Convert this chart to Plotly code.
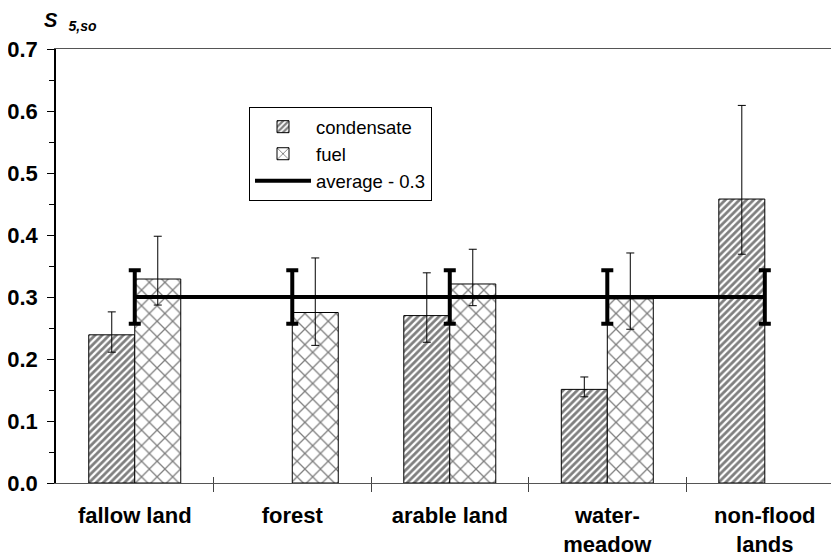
import plotly.graph_objects as go

categories = ["fallow land", "forest", "arable land", "water-<br>meadow", "non-flood<br>lands"]
condensate = [0.239, None, 0.270, 0.151, 0.458]
condensate_err_plus = [0.037, None, 0.069, 0.020, 0.151]
condensate_err_minus = [0.028, None, 0.043, 0.012, 0.089]
fuel = [0.329, 0.275, 0.321, 0.297, None]
fuel_err_plus = [0.069, 0.088, 0.056, 0.074, None]
fuel_err_minus = [0.042, 0.053, 0.035, 0.049, None]
average = [0.3, 0.3, 0.3, 0.3, 0.3]
average_err = [0.043, 0.043, 0.043, 0.043, 0.043]
boundaries = [0.5, 1.5, 2.5, 3.5, 4.5]
y_ticks = [0.0, 0.1, 0.2, 0.3, 0.4, 0.5, 0.6, 0.7]

xpos = list(range(len(categories)))
FONT = "Liberation Sans, Arial, sans-serif"

fig = go.Figure()
fig.add_trace(go.Bar(
    x=xpos, y=condensate, name="condensate", legendgroup="a",
    marker=dict(color="white", line=dict(color="black", width=1),
                pattern=dict(shape="/", size=5, solidity=0.55, fgcolor="black", bgcolor="white")),
    error_y=dict(type="data", symmetric=False, array=condensate_err_plus,
                 arrayminus=condensate_err_minus, color="black", thickness=1, width=4),
))
fig.add_trace(go.Bar(
    x=xpos, y=fuel, name="fuel", legendgroup="b",
    marker=dict(color="white", line=dict(color="black", width=1),
                pattern=dict(shape="x", size=11, solidity=0.22, fgcolor="black", bgcolor="white")),
    error_y=dict(type="data", symmetric=False, array=fuel_err_plus,
                 arrayminus=fuel_err_minus, color="black", thickness=1, width=4),
))
fig.add_trace(go.Scatter(
    x=xpos, y=average, name="average - 0.3", mode="lines", legendgroup="c",
    line=dict(color="black", width=4),
    error_y=dict(type="data", array=average_err, color="black", thickness=4, width=6),
))

x_range = [-0.5, 4.471]
fig.update_layout(
    width=831, height=552,
    margin=dict(l=48, r=0, t=41, b=77),
    plot_bgcolor="white", paper_bgcolor="white",
    barmode="group", bargap=0.416, bargroupgap=0,
    font=dict(family=FONT, color="black"),
    showlegend=True,
    legend=dict(x=0.2465, y=0.866, xanchor="left", yanchor="top",
                bgcolor="white", bordercolor="black", borderwidth=1,
                font=dict(size=18.5, family=FONT, color="black"),
                itemwidth=56, tracegroupgap=0),
    xaxis=dict(range=x_range, tickmode="array", tickvals=xpos, ticktext=categories,
               ticks="", showline=True, linecolor="#555555", linewidth=1, mirror=True,
               showgrid=False, zeroline=False, ticklabelstandoff=13, automargin=False,
               tickfont=dict(size=22, family=FONT, color="black", weight="bold")),
    xaxis2=dict(range=x_range, overlaying="x", anchor="y", side="bottom",
                tickmode="array", tickvals=boundaries, ticks="outside", ticklen=8,
                tickcolor="#444444", tickwidth=1, showticklabels=False, automargin=False,
                showline=False, showgrid=False, zeroline=False),
    xaxis3=dict(range=x_range, overlaying="x", anchor="y", side="bottom",
                tickmode="array", tickvals=boundaries, ticks="inside", ticklen=6,
                tickcolor="#444444", tickwidth=1, showticklabels=False, automargin=False,
                showline=False, showgrid=False, zeroline=False),
    yaxis=dict(range=[0, 0.7], tickmode="array", tickvals=y_ticks,
               ticktext=[f"{v:.1f}" for v in y_ticks],
               ticks="outside", ticklen=7, tickwidth=1, tickcolor="black",
               minor=dict(dtick=0.05, ticks="outside", ticklen=5, tickcolor="black", tickwidth=1),
               showline=True, linecolor="black", linewidth=1.5, automargin=False,
               showgrid=False, zeroline=False, ticklabelstandoff=5,
               tickfont=dict(size=22, family=FONT, color="black", weight="bold")),
)
fig.add_trace(go.Scatter(x=[None], y=[None], xaxis="x2", showlegend=False, hoverinfo="skip"))
fig.add_trace(go.Scatter(x=[None], y=[None], xaxis="x3", showlegend=False, hoverinfo="skip"))

fig.add_annotation(
    xref="paper", yref="paper", x=-0.018, y=1.03, xanchor="left", yanchor="bottom",
    text="<b><i>S</i></b>&nbsp; <sub><b><i>5,so</i></b></sub>", showarrow=False,
    font=dict(size=20, family=FONT, color="black"),
)

fig.write_html("out.html")
